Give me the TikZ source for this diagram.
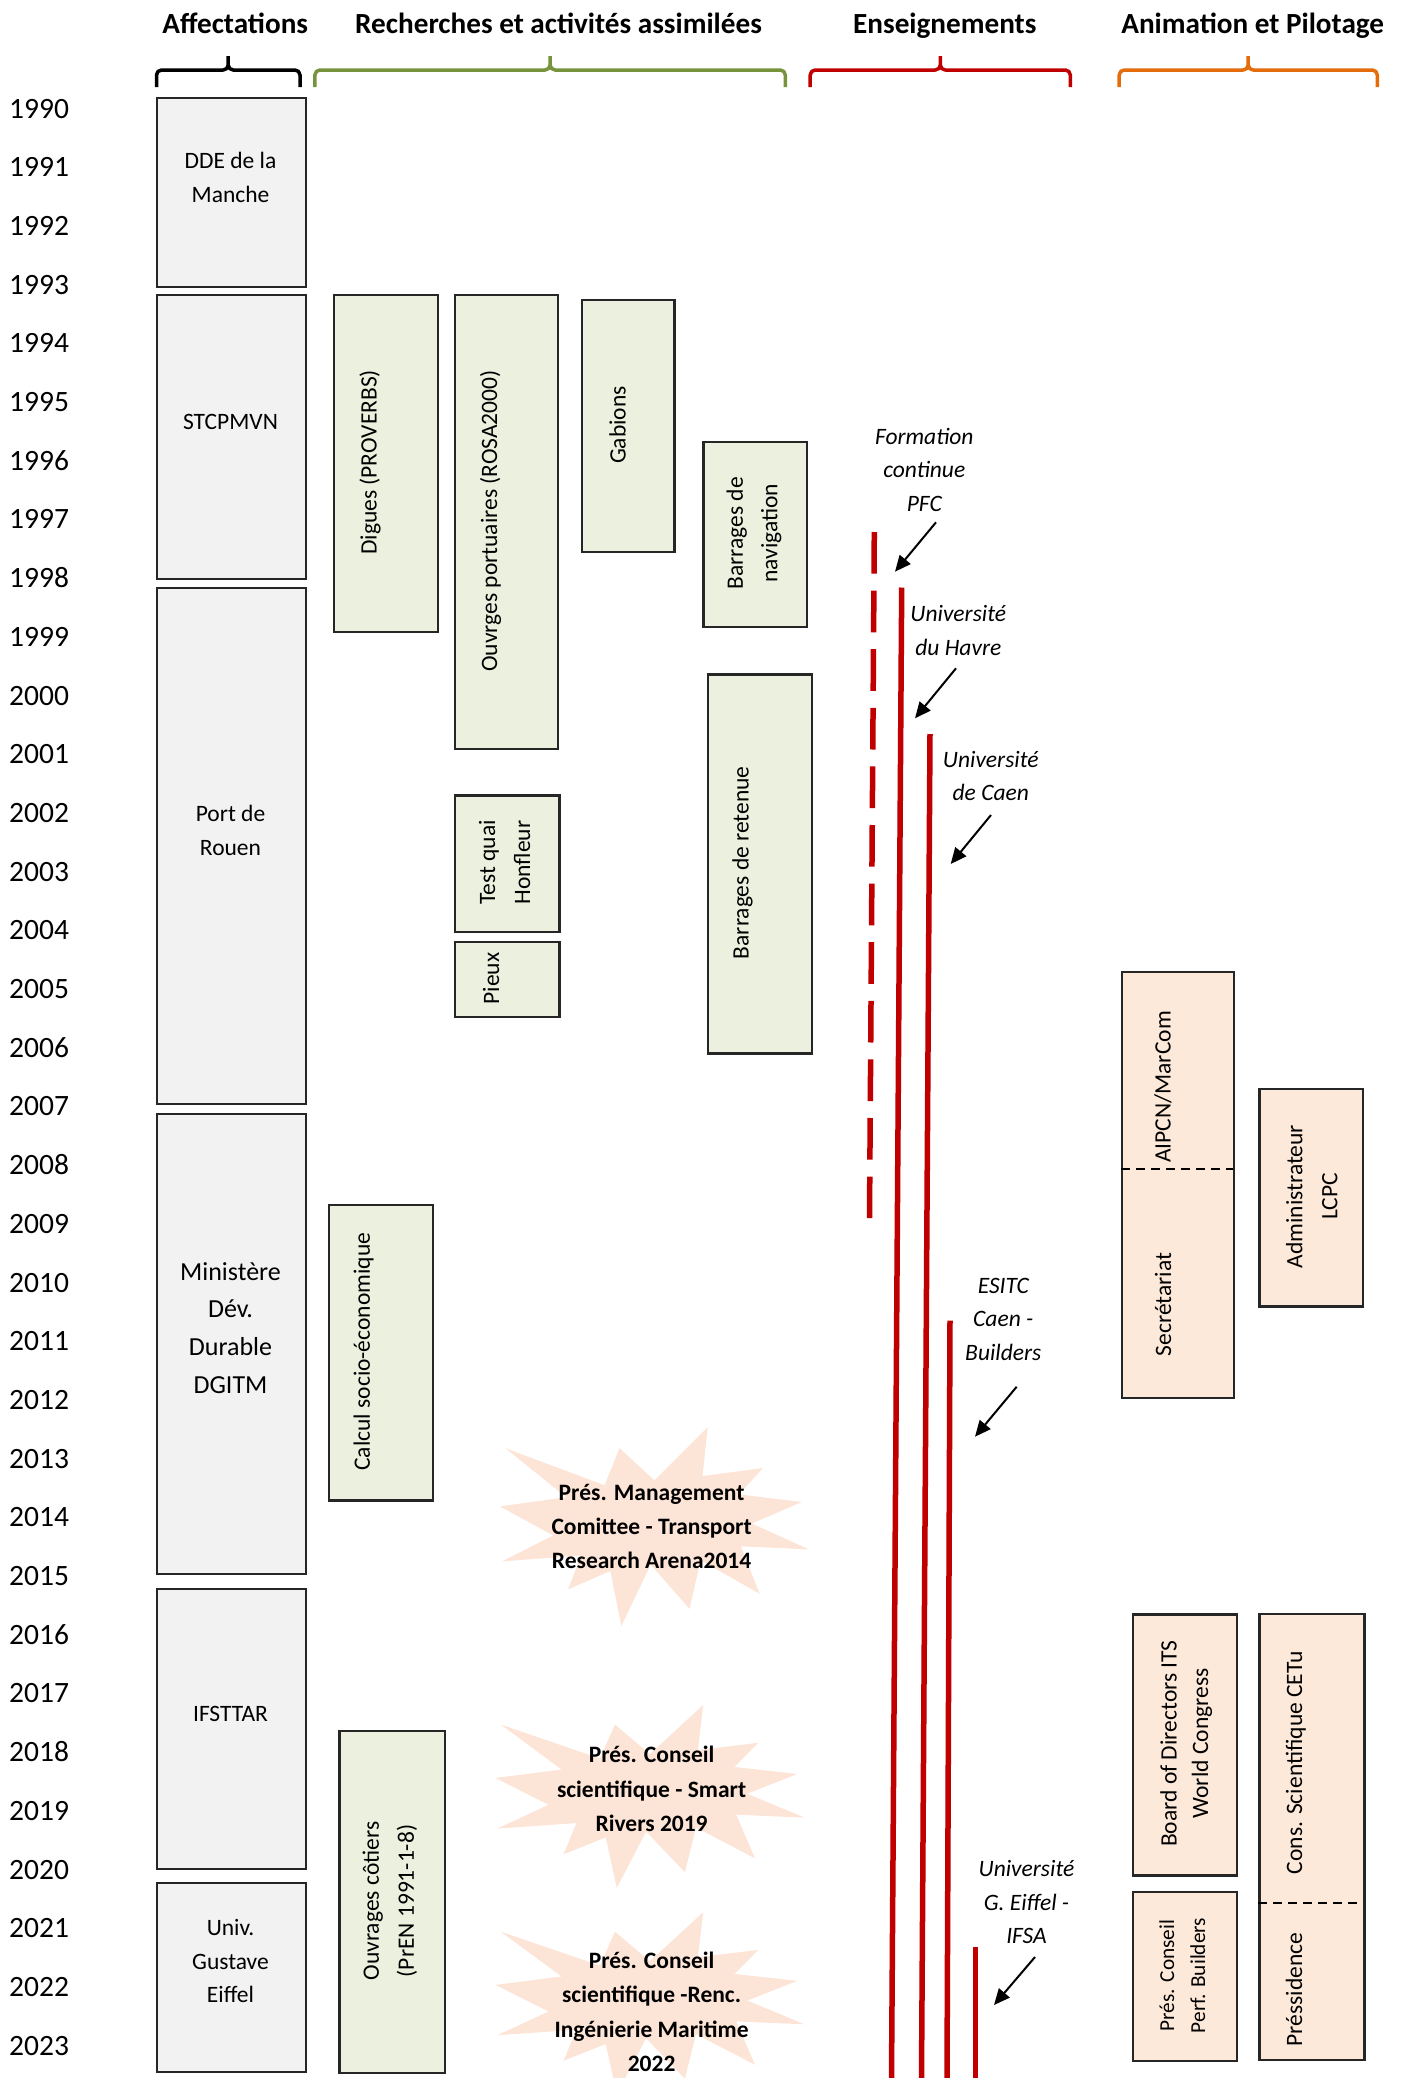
\documentclass[tikz,border=0pt]{standalone}
\usepackage{fontspec}
\setmainfont{Carlito}
\usetikzlibrary{arrows.meta,positioning}

\definecolor{affgray}{HTML}{F2F2F2}
\definecolor{recgreen}{HTML}{EBF1DE}
\definecolor{anipeach}{HTML}{FDE9D9}
\definecolor{burstpeach}{HTML}{FCE4D6}
\definecolor{ensred}{HTML}{C00000}
\definecolor{recolive}{HTML}{77933C}
\definecolor{aniorange}{HTML}{E46C0A}

\tikzset{
  box/.style={draw=black!85, line width=2.2pt, inner sep=0pt, anchor=north west},
  affbox/.style={box, fill=affgray},
  recbox/.style={box, fill=recgreen},
  anibox/.style={box, fill=anipeach},
  txt/.style={inner sep=0pt, align=center, anchor=base, font=\fontsize{23.5}{34}\selectfont},
  vtxt/.style={txt, rotate=90},
  head/.style={inner sep=0pt, anchor=base, font=\fontsize{29.2}{35}\selectfont\bfseries},
  year/.style={inner sep=0pt, anchor=base west, font=\fontsize{29.5}{35}\selectfont},
  note/.style={txt, font=\fontsize{23.5}{33.5}\selectfont\itshape},
  bursttxt/.style={txt, font=\fontsize{23.5}{34.3}\selectfont\bfseries},
  ensline/.style={draw=ensred, line width=5.5pt},
  pointer/.style={draw=black, line width=2pt, -{Triangle[length=16pt,width=14pt]}},
  sepline/.style={draw=black, line width=2pt, dash pattern=on 9pt off 6pt},
}

% explosion shape: x, y, xscale, yscale
\newcommand{\burstshape}[4]{%
  \fill[burstpeach, shift={(#1,#2)}, xscale=#3, yscale=#4]
    (108,58) -- (145.22,0) -- (141.55,53.25) -- (183.8,44.57) -- (167.02,73.15)
    -- (210.97,81.37) -- (176.07,104.75) -- (216,132.9) -- (168.37,129.42)
    -- (181.45,180.95) -- (140.2,144.57) -- (132.47,197.37) -- (105.32,149.35)
    -- (84.85,216) -- (77.15,156.27) -- (47.62,176.17) -- (56.67,139.37)
    -- (1.35,145.87) -- (37.22,117.75) -- (0,86.15) -- (46.27,76.17)
    -- (3.7,22.95) -- (73.12,63.2) -- (83.52,22.95) -- cycle;}

\begin{document}
\begin{tikzpicture}[x=1pt,y=-1pt]
    \useasboundingbox (0,0) rectangle (1402,2078);
    \clip (0,0) rectangle (1402,2078);

    % column headers
    \node[head] (hAff) at (235.2,33.3) {Affectations};
    \node[head] (hRec) at (558.6,33.3) {Recherches et activités assimilées};
    \node[head] (hEns) at (944.8,33.3) {Enseignements};
    \node[head] (hAni) at (1252.7,33.3) {Animation et Pilotage};
    \foreach \l/\m/\r/\c in {156.5/228.2/300/black, 314.9/550.1/785.3/recolive, 810.2/940.3/1070.3/ensred, 1119.2/1248.2/1377.3/aniorange}
      \draw[\c, line width=3.5pt, line join=round]
        (\l,87) -- (\l,75) to[out=90,in=180] (\l+5,70) -- (\m-5,70)
        to[out=0,in=-90] (\m,65) -- (\m,56)
        (\m,65) to[out=-90,in=180] (\m+5,70) -- (\r-5,70)
        to[out=0,in=90] (\r,75) -- (\r,87);

    % years
    \foreach \yr in {1990,...,2023}
      \node[year] (y\yr) at (9,{118+(\yr-1990)*58.7}) {\yr};

    % affectations
    \node[affbox, minimum width=149, minimum height=189.3] (dde) at (156,96.7) {};
    \node[affbox, minimum width=149, minimum height=284] (stc) at (156,294) {};
    \node[affbox, minimum width=149, minimum height=516] (rouen) at (156,587) {};
    \node[affbox, minimum width=149, minimum height=460.3] (mini) at (156,1112.7) {};
    \node[affbox, minimum width=149, minimum height=280] (ifs) at (156,1588) {};
    \node[affbox, minimum width=149, minimum height=189.3] (uge) at (156,1881.7) {};
    \node[txt] (ddeT) at (230.5,202.3) {DDE de la\\Manche};
    \node[txt] (stcT) at (230.5,429) {STCPMVN};
    \node[txt] (rouenT) at (230.5,855.7) {Port de\\Rouen};
    \node[txt, font=\fontsize{26}{37.8}\selectfont] (miniT) at (230.5,1393.4) {Ministère\\Dév.\\Durable\\DGITM};
    \node[txt] (ifsT) at (230.5,1721) {IFSTTAR};
    \node[txt, font=\fontsize{23.5}{33.5}\selectfont] (ugeT) at (230.5,2002.7) {Univ.\\Gustave\\Eiffel};

    % recherches
    \node[recbox, minimum width=104, minimum height=336.7] (dig) at (332.7,294) {};
    \node[recbox, minimum width=102.7, minimum height=453.7] (rosa) at (454,294) {};
    \node[recbox, minimum width=92.6, minimum height=252] (gab) at (580.7,299) {};
    \node[recbox, minimum width=103.7, minimum height=185] (bnav) at (702.3,440.7) {};
    \node[recbox, minimum width=104.3, minimum height=136.4] (honf) at (454,794.3) {};
    \node[recbox, minimum width=104.3, minimum height=75] (pieux) at (454,941) {};
    \node[recbox, minimum width=104, minimum height=379] (bret) at (706.7,673.3) {};
    \node[recbox, minimum width=104.3, minimum height=295.3] (calc) at (327.7,1204) {};
    \node[recbox, minimum width=105.4, minimum height=341.7] (cot) at (338.3,1730) {};
    \node[vtxt] (digT) at (376.7,462.4) {Digues (PROVERBS)};
    \node[vtxt] (rosaT) at (497,521) {Ouvrges portuaires (ROSA2000)};
    \node[vtxt] (gabT) at (625.7,425) {Gabions};
    \node[vtxt, font=\fontsize{23.5}{34.5}\selectfont] (bnavT) at (777.3,533.2) {Barrages de\\navigation};
    \node[vtxt, font=\fontsize{23.5}{35}\selectfont] (honfT) at (530,862.5) {Test quai\\Honfleur};
    \node[vtxt] (pieuxT) at (499,978.5) {Pieux};
    \node[vtxt] (bretT) at (748.5,862.8) {Barrages de retenue};
    \node[vtxt] (calcT) at (369.8,1351.7) {Calcul socio-économique};
    \node[vtxt, font=\fontsize{23.5}{35}\selectfont] (cotT) at (413.8,1901) {Ouvrages côtiers\\(PrEN 1991-1-8)};

    % presidences
    \burstshape{500}{1427}{1.4306}{0.9213}
    \burstshape{495.4}{1705}{1.4306}{0.8472}
    \burstshape{495.4}{1912.3}{1.4306}{0.8426}
    \node[bursttxt] (traT) at (651.6,1568.6) {Prés. Management\\Comittee - Transport\\Research Arena2014};
    \node[bursttxt] (smrT) at (651.6,1831.5) {Prés. Conseil\\scientifique - Smart\\Rivers 2019};
    \node[bursttxt] (rimT) at (651.6,2071.4) {Prés. Conseil\\scientifique -Renc.\\Ingénierie Maritime\\2022};

    % enseignements
    \draw[ensline, dash pattern=on 41.7pt off 16.9pt] (874.3,532) -- (869.5,1218);
    \draw[ensline] (901.7,587.5) -- (891.5,2078);
    \draw[ensline] (930,734) -- (921.5,2078);
    \draw[ensline] (950,1320.7) -- (947,2078);
    \draw[ensline] (975.4,1947) -- (975.4,2078);
    \node[note] (pfcT) at (924.3,511) {Formation\\continue\\PFC};
    \node[note] (havT) at (958.3,655.2) {Université\\du Havre};
    \node[note] (caeT) at (990.8,800.8) {Université\\de Caen};
    \node[note] (esiT) at (1003.3,1360.3) {ESITC\\Caen -\\Builders};
    \node[note] (ifsaT) at (1026.5,1943.9) {Université\\G. Eiffel -\\IFSA};
    \coordinate (pfcA) at (936,522.3);   \coordinate (pfcB) at (895,571.7);
    \coordinate (havA) at (956,668.3);   \coordinate (havB) at (915,718.3);
    \coordinate (caeA) at (991,815);     \coordinate (caeB) at (950.7,864);
    \coordinate (esiA) at (1016.7,1386.7); \coordinate (esiB) at (975,1436.7);
    \coordinate (ifsaA) at (1035,1957);  \coordinate (ifsaB) at (994,2005);
    \foreach \p in {pfc,hav,cae,esi,ifsa}
      \draw[pointer] (\p A) -- (\p B);

    % animation et pilotage
    \node[anibox, minimum width=111.7, minimum height=425.7] (aipcn) at (1121,971) {};
    \node[anibox, minimum width=103.4, minimum height=217.6] (lcpc) at (1258.3,1087.7) {};
    \node[anibox, minimum width=104, minimum height=261] (its) at (1131.7,1613.3) {};
    \node[anibox, minimum width=104, minimum height=169] (perf) at (1131.7,1891) {};
    \node[anibox, minimum width=105, minimum height=446.3] (cetu) at (1258.3,1612.7) {};
    \draw[sepline] (1121,1169) -- (1232.7,1169);
    \draw[sepline] (1258.3,1903.3) -- (1363.3,1903.3);
    \node[vtxt] (aipT) at (1170.5,1087) {AIPCN/MarCom};
    \node[vtxt] (secT) at (1171,1304.5) {Secrétariat};
    \node[vtxt, font=\fontsize{23.5}{35}\selectfont] (lcpcT) at (1337.3,1196.5) {Administrateur\\LCPC};
    \node[vtxt, font=\fontsize{23.5}{31.5}\selectfont] (itsT) at (1208,1743.5) {Board of Directors ITS\\World Congress};
    \node[vtxt, font=\fontsize{21.3}{31}\selectfont] (perfT) at (1205,1975.5) {Prés. Conseil\\Perf. Builders};
    \node[vtxt] (cetuT) at (1302,1762.7) {Cons. Scientifique CETu};
    \node[vtxt] (presT) at (1302,1989.7) {Préssidence};
\end{tikzpicture}
\end{document}
